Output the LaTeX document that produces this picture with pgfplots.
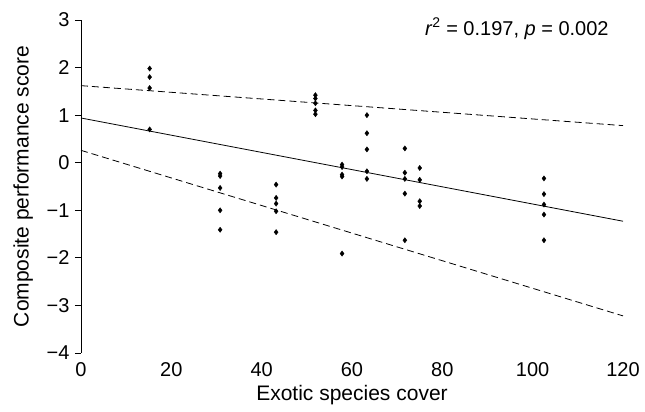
\documentclass[border=0pt]{standalone}
\usepackage{fontspec}
\setmainfont{Liberation Sans}
\usepackage{pgfplots}
\pgfplotsset{compat=1.18}

\begin{document}
\begin{tikzpicture}[font=\fontsize{21}{25}\selectfont]
\begin{axis}[
    scale only axis,
    width=542pt,
    height=333pt,
    xmin=0, xmax=120,
    ymin=-4, ymax=3,
    axis y line=left,
    axis x line=bottom,
    axis line style={-},
    x axis line style={draw=none},
    xtick={0,20,40,60,80,100,120},
    ytick={-4,-3,-2,-1,0,1,2,3},
    yticklabels={−4,−3,−2,−1,0,1,2,3},
    ticklabel style={font=\fontsize{20}{24}\selectfont},
    yticklabel style={xshift=-2pt},
    xtick style={draw=none},
    ytick style={black, line width=0.8pt},
    tick align=outside,
    major tick length=6pt,
    /pgf/number format/assume math mode=true,
    xlabel={Exotic species cover},
    xlabel style={yshift=-2pt},
    ylabel={Composite performance score},
    ylabel style={at={(axis description cs:-0.082,0.5)}, anchor=south},
    clip=false,
]
% scatter
\addplot[only marks, mark=diamond*, mark size=2.6pt, black] coordinates {
    (15.2, 1.98) (15.2, 1.80) (15.2, 1.57) (15.2, 0.70)
    (30.8, -0.23) (30.8, -0.28) (30.8, -0.53) (30.8, -1.00) (30.8, -1.41)
    (43.2, -0.46) (43.2, -0.74) (43.2, -0.86) (43.2, -1.02) (43.2, -1.46)
    (51.9, 1.42) (51.9, 1.35) (51.9, 1.25) (51.9, 1.10) (51.9, 1.02)
    (57.8, -0.04) (57.8, -0.09) (57.8, -0.25) (57.8, -0.29) (57.8, -1.91)
    (63.3, 1.00) (63.3, 0.62) (63.3, 0.28) (63.3, -0.18) (63.3, -0.34)
    (71.7, 0.30) (71.7, -0.21) (71.7, -0.34) (71.7, -0.65) (71.7, -1.63)
    (75.0, -0.11) (75.0, -0.36) (75.0, -0.81) (75.0, -0.91)
    (102.5, -0.33) (102.5, -0.66) (102.5, -0.88) (102.5, -1.09) (102.5, -1.63)
};
% fit and bands
\addplot[black, line width=0.8pt] coordinates {(0, 0.94) (120, -1.23)};
\addplot[black, line width=0.8pt, dash pattern=on 7pt off 4pt] coordinates {(0, 1.62) (120, 0.78)};
\addplot[black, line width=0.8pt, dash pattern=on 7pt off 4pt] coordinates {(0, 0.26) (120, -3.22)};
\node[anchor=east, font=\fontsize{20}{24}\selectfont] at (axis cs:117.6,2.82) {\textit{r}\textsuperscript{2} = 0.197, \textit{p} = 0.002};
\coordinate (bbl) at ([shift={(-81pt,-59pt)}]rel axis cs:0,0);
\coordinate (bur) at ([shift={(22pt,20pt)}]rel axis cs:1,1);
\end{axis}
\pgfresetboundingbox
\path (bbl) rectangle (bur);
\end{tikzpicture}
\end{document}
